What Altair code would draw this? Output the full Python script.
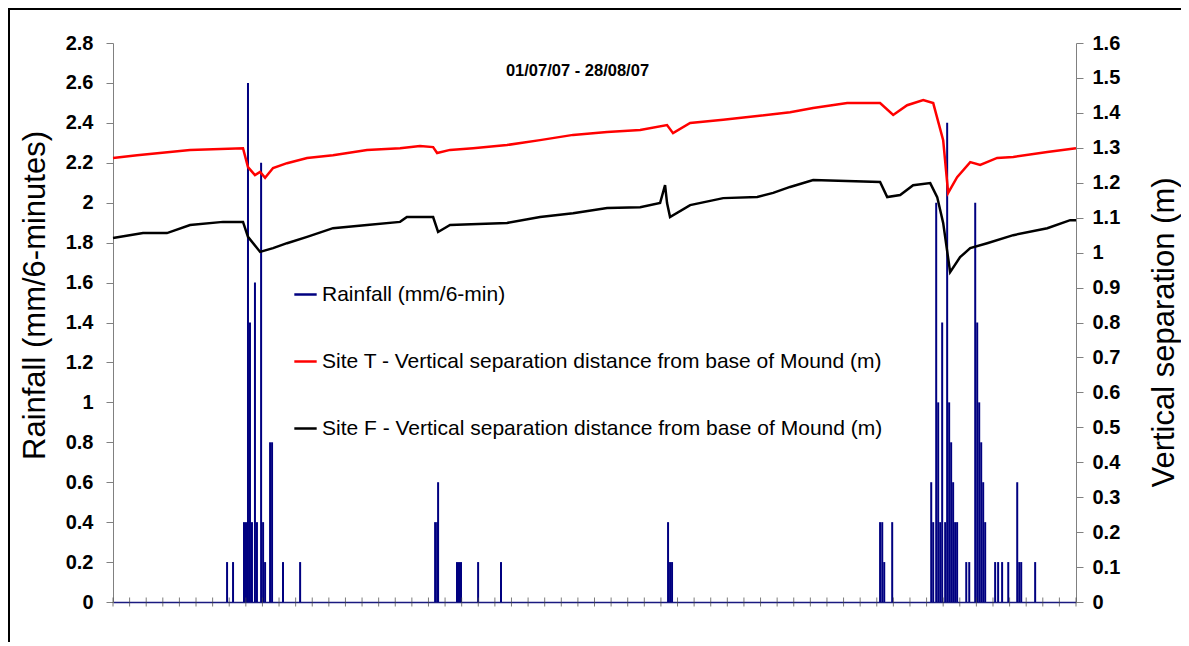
import altair as alt
import pandas as pd

# ---- data (x = days since 01/07/07) ----
rain_day = [6.87, 7.23, 7.89, 8.01, 8.13, 8.25, 8.37, 8.55, 8.67, 8.92, 9.04, 9.16, 9.46, 9.58, 10.24, 11.27,
            19.40, 19.52, 19.58, 20.72, 20.84, 20.96, 21.99, 23.37,
            33.43, 33.55, 33.67,
            46.20, 46.33, 46.45, 46.93, 49.28, 49.40, 49.58, 49.70, 49.82, 49.94, 50.12, 50.24, 50.36,
            50.48, 50.60, 50.72, 50.84, 51.39, 51.57, 51.93, 52.05, 52.17, 52.29, 52.41, 52.53,
            53.13, 53.31, 53.55, 53.92, 54.46, 54.58, 54.70, 55.54]
rain_mm = [0.2, 0.2, 0.4, 0.4, 2.6, 1.4, 0.4, 1.6, 0.4, 2.2, 0.4, 0.2, 0.8, 0.8, 0.2, 0.2,
           0.4, 0.4, 0.6, 0.2, 0.2, 0.2, 0.2, 0.2,
           0.4, 0.2, 0.2,
           0.4, 0.4, 0.2, 0.4, 0.6, 0.4, 2.0, 1.0, 0.4, 1.4, 0.4, 2.4, 1.0,
           0.8, 0.6, 0.4, 0.4, 0.2, 0.2, 2.0, 1.4, 1.0, 0.8, 0.6, 0.4,
           0.2, 0.2, 0.2, 0.2, 0.6, 0.2, 0.2, 0.2]

t_day = [0, 1.45, 4.64, 7.83, 8.13, 8.55, 8.86, 9.16, 9.64, 10.48, 11.69, 13.25, 15.3, 17.29, 18.49, 19.28,
         19.52, 20.3, 21.69, 23.73, 25.72, 27.71, 29.76, 31.75, 33.37, 33.73, 34.76, 36.75, 38.8, 40.78,
         42.17, 44.22, 46.2, 46.99, 47.83, 48.8, 49.4, 50.0, 50.3, 50.84, 51.63, 52.23, 53.25, 54.22,
         56.27, 58]
t_val = [1.271, 1.279, 1.294, 1.299, 1.245, 1.222, 1.231, 1.214, 1.242, 1.256, 1.271, 1.279, 1.294, 1.299,
         1.305, 1.302, 1.285, 1.294, 1.299, 1.308, 1.322, 1.337, 1.345, 1.351, 1.365, 1.342, 1.371, 1.380,
         1.391, 1.402, 1.414, 1.428, 1.428, 1.394, 1.422, 1.437, 1.428, 1.322, 1.171, 1.216, 1.259, 1.251,
         1.271, 1.274, 1.288, 1.299]

f_day = [0, 1.81, 3.25, 4.64, 6.63, 7.83, 8.13, 8.86, 9.64, 10.48, 11.69, 13.25, 15.3, 17.29, 17.7, 19.28,
         19.58, 20.3, 23.73, 25.72, 27.71, 29.76, 31.75, 32.95, 33.25, 33.37, 33.55, 34.76, 36.75, 38.8,
         39.76, 40.78, 42.17, 46.2, 46.63, 47.41, 48.19, 49.22, 49.64, 50.0, 50.42, 51.02, 51.63, 52.65,
         54.22, 56.27, 57.65, 58]
f_val = [1.042, 1.056, 1.056, 1.079, 1.088, 1.088, 1.045, 1.002, 1.013, 1.027, 1.045, 1.070, 1.079, 1.088,
         1.102, 1.102, 1.059, 1.079, 1.085, 1.102, 1.113, 1.128, 1.130, 1.142, 1.193, 1.142, 1.102, 1.136,
         1.156, 1.159, 1.171, 1.188, 1.208, 1.202, 1.159, 1.165, 1.193, 1.199, 1.159, 1.085, 0.944, 0.987,
         1.013, 1.027, 1.050, 1.070, 1.093, 1.093]

series_names = ["Rainfall (mm/6-min)",
                "Site T - Vertical separation distance from base of Mound (m)",
                "Site F - Vertical separation distance from base of Mound (m)"]
series_colors = ["#000080", "#ff0000", "#000000"]
rain_ticks = [0, 0.2, 0.4, 0.6, 0.8, 1, 1.2, 1.4, 1.6, 1.8, 2, 2.2, 2.4, 2.6, 2.8]
sep_ticks = [0, 0.1, 0.2, 0.3, 0.4, 0.5, 0.6, 0.7, 0.8, 0.9, 1, 1.1, 1.2, 1.3, 1.4, 1.5, 1.6]
tick_days = list(range(0, 59))

FONT = "Liberation Sans"

rain_df = pd.DataFrame({"day": rain_day, "rain": rain_mm, "series": series_names[0]})
lines_df = pd.concat([
    pd.DataFrame({"day": t_day, "sep": t_val, "series": series_names[1]}),
    pd.DataFrame({"day": f_day, "sep": f_val, "series": series_names[2]}),
])
ticks_df = pd.DataFrame({"day": tick_days})

xscale = alt.Scale(domain=[0, 58], nice=False, zero=False)
color = alt.Color("series:N",
                  scale=alt.Scale(domain=series_names, range=series_colors),
                  legend=alt.Legend(title=None, orient="none", legendX=180, legendY=239,
                                    symbolType="stroke", symbolStrokeWidth=2.5, symbolSize=500,
                                    labelFont=FONT, labelFontSize=21, labelColor="black",
                                    rowPadding=44, labelLimit=800, labelOffset=4))

rain = alt.Chart(rain_df).mark_rule(strokeWidth=2).encode(
    x=alt.X("day:Q", scale=xscale,
            axis=alt.Axis(title=None, labels=False, ticks=False, grid=False,
                          domainColor="#1a1a80", domainWidth=1.5)),
    y=alt.Y("rain:Q", scale=alt.Scale(domain=[0, 2.8], nice=False),
            axis=alt.Axis(orient="left", values=rain_ticks, format="~g", grid=False,
                          title="Rainfall (mm/6-minutes)", titleFont=FONT, titleFontSize=31,
                          titleFontWeight="normal", titleAngle=270, titleX=-78, titleY=252,
                          titleBaseline="middle", titleColor="black",
                          labelFont=FONT, labelFontSize=20, labelFontWeight="bold",
                          labelColor="black", labelPadding=13, tickSize=7,
                          domainColor="#808080", tickColor="#808080")),
    y2=alt.datum(0),
    color=color,
)

lines = alt.Chart(lines_df).mark_line(strokeWidth=2.5).encode(
    x=alt.X("day:Q", scale=xscale),
    y=alt.Y("sep:Q", scale=alt.Scale(domain=[0, 1.6], nice=False),
            axis=alt.Axis(orient="right", values=sep_ticks, format="~g", grid=False,
                          title="Vertical separation (m)", titleFont=FONT, titleFontSize=31,
                          titleFontWeight="normal", titleAngle=270, titleX=88, titleY=289,
                          titleBaseline="middle", titleColor="black",
                          labelFont=FONT, labelFontSize=20, labelFontWeight="bold",
                          labelColor="black", labelPadding=9, tickSize=7,
                          domainColor="#808080", tickColor="#808080")),
    color=color,
    order="day:Q",
)

ticks = alt.Chart(ticks_df).mark_tick(orient="vertical", color="#444444", thickness=1, size=9).encode(
    x=alt.X("day:Q", scale=xscale),
    y=alt.value(559),
)

frame = alt.Chart(pd.DataFrame({"k": [0]})).mark_rect(filled=False, stroke="black", strokeWidth=2).encode(
    x=alt.value(-104), x2=alt.value(1300), y=alt.value(-34), y2=alt.value(800),
)

chart = alt.layer(rain, lines, ticks, frame).resolve_scale(y="independent").properties(
    width=963, height=559,
    padding={"left": 105, "top": 35, "right": 105, "bottom": 40},
    autosize=alt.AutoSizeParams(type="none"),
    title=alt.TitleParams("01/07/07 - 28/08/07", font=FONT, fontSize=16.5, fontWeight="bold",
                          color="black", offset=-33, dx=-17, dy=38, anchor="middle", frame="group"),
).configure_view(stroke=None)

chart.save("out.html", embed_options={"renderer": "svg", "actions": False})
